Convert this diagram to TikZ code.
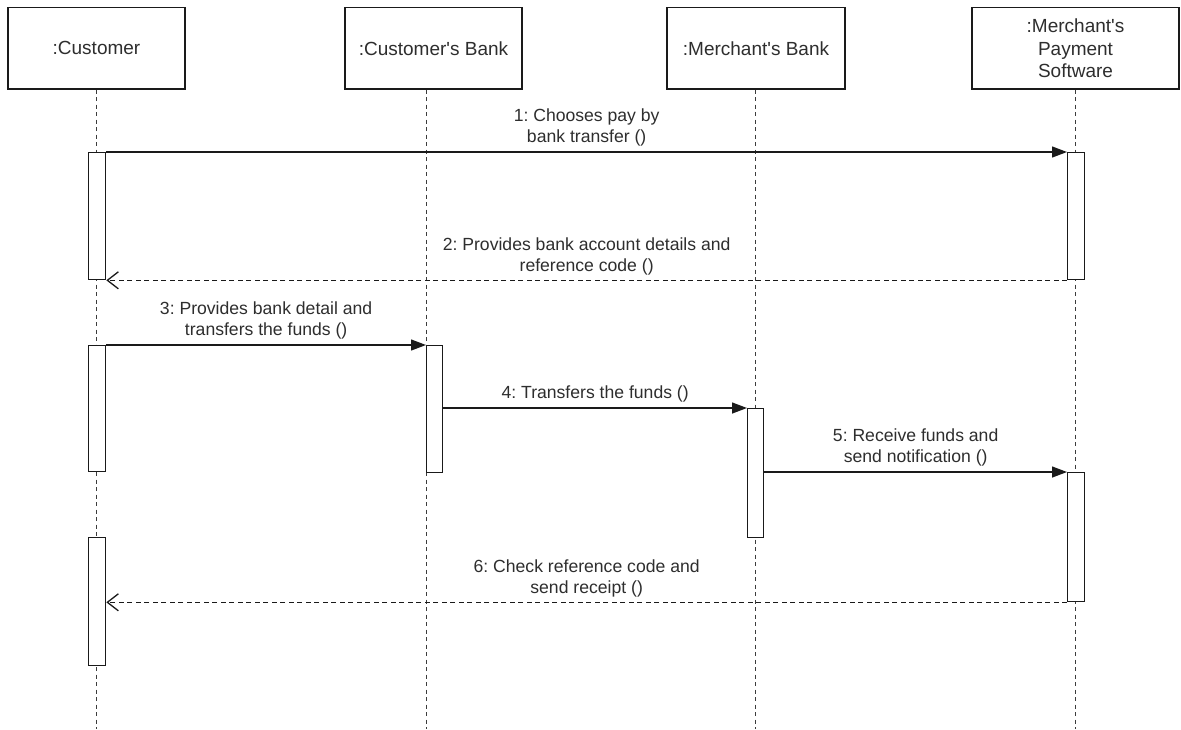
\documentclass[tikz,border=0pt]{standalone}
\usepackage{fontspec}
\setmainfont{Liberation Sans}
\usetikzlibrary{arrows.meta}
\definecolor{linec}{HTML}{1A1A1A}
\definecolor{textc}{HTML}{2E2E2E}
\begin{document}
\frenchspacing
\begin{tikzpicture}[x=1pt,y=-1pt,
  actor/.style={draw=linec, line width=1.4pt, fill=white, minimum width=#1,
    minimum height=81.5pt, inner sep=0pt, align=center,
    font=\fontsize{19}{22.5}\selectfont, text=textc},
  bar/.style={draw=linec, line width=1.3pt, fill=white, minimum width=17pt,
    inner sep=0pt, anchor=north west, minimum height=#1},
  lifeline/.style={draw=linec!85, line width=1.2pt, dash pattern=on 4pt off 3.5pt},
  call/.style={draw=linec, line width=1.3pt, -{Triangle[length=15pt,width=11pt]}},
  reply/.style={draw=linec, line width=1.3pt, dash pattern=on 5pt off 3.5pt,
    -{Straight Barb[length=11pt,width=17pt]}},
  msg/.style={font=\fontsize{17.6}{21}\selectfont, text=textc, align=center,
    inner sep=0pt, above=5pt}
]
% canvas
\fill[white] (0,0) rectangle (1181,729);
\useasboundingbox (0,0) rectangle (1181,729);

% participants
\node[actor=177pt] (cust)  at (96.5,48.25)  {:Customer};
\node[actor=177pt] (cbank) at (433.5,48.25) {:Customer\textquotesingle s Bank};
\node[actor=178pt] (mbank) at (756,48.25)   {:Merchant\textquotesingle s Bank};
\node[actor=207pt] (mps)   at (1075.5,48.25) {:Merchant\textquotesingle s\\Payment\\Software};

% lifeline ends
\coordinate (custEnd)  at (96.5,729);
\coordinate (cbankEnd) at (426.5,729);
\coordinate (mbankEnd) at (755.5,729);
\coordinate (mpsEnd)   at (1075.5,729);

\draw[lifeline] (cust.south) -- (custEnd);
\draw[lifeline] (cbank.south -| cbankEnd) -- (cbankEnd);
\draw[lifeline] (mbank.south -| mbankEnd) -- (mbankEnd);
\draw[lifeline] (mps.south) -- (mpsEnd);

% activation bars
\node[bar=127pt] (c1)  at (88,152) {};
\node[bar=127pt] (m1)  at (1067,152) {};
\node[bar=126pt] (c2)  at (88,345) {};
\node[bar=127pt, minimum width=16pt] (b1) at (426,345) {};
\node[bar=129pt, minimum width=16pt] (mb1) at (747,408) {};
\node[bar=129pt] (m2)  at (1067,472) {};
\node[bar=128pt] (c3)  at (88,537) {};

% messages
\draw[call] (c1.north east) -- node[msg]{1: Chooses pay by\\bank transfer ()} (m1.north west);
\draw[reply] (m1.south west) -- node[msg]{2: Provides bank account details and\\reference code ()} (c1.south east);
\draw[call] (c2.north east) -- node[msg]{3: Provides bank detail and\\transfers the funds ()} (b1.north west);
\draw[call] (b1.east |- mb1.north west) -- node[msg]{4: Transfers the funds ()} (mb1.north west);
\draw[call] (mb1.east |- m2.north west) -- node[msg]{5: Receive funds and\\send notification ()} (m2.north west);
\draw[reply] (m2.south west) -- node[msg]{6: Check reference code and\\send receipt ()} (c3.east |- m2.south west);
\end{tikzpicture}
\end{document}
